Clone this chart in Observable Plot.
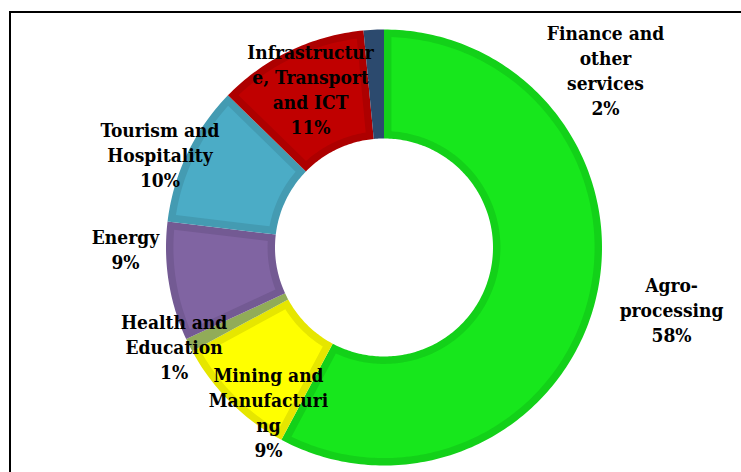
<!DOCTYPE html>
<html><head><meta charset="utf-8">
<script src="https://cdn.jsdelivr.net/npm/d3@7"></script>
<script src="https://cdn.jsdelivr.net/npm/@observablehq/plot@0.6"></script>
<style>
body{margin:0;background:#fff}
#wrap{position:relative;width:741px;height:472px;overflow:hidden;background:#fff}
#chart{position:absolute;left:0;top:0}
#frame{position:absolute;left:9px;top:11px;width:800px;height:600px;border:2px solid #000;box-sizing:border-box;pointer-events:none}
</style>
</head><body>
<div id="wrap"><div id="chart"></div><div id="frame"></div></div>
<script>
// ---- data ----
const sectors = ["Agro-processing","Mining and Manufacturing","Health and Education","Energy","Tourism and Hospitality","Infrastructure, Transport and ICT","Finance and other services"];
const shares = [57.8, 9.3, 1.0, 8.8, 10.4, 11.2, 1.5];
const pctLabels = ["58%","9%","1%","9%","10%","11%","2%"];
const nameLabels = ["Agro-\nprocessing","Mining and\nManufacturi\nng","Health and\nEducation","Energy","Tourism and\nHospitality","Infrastructur\ne, Transport\nand ICT","Finance and\nother\nservices"];

// ---- styles / layout ----
const fillColors = ["#17e71c","#ffff00","#91ac58","#8064a2","#4bacc6","#c00000","#2c4a6e"];
const rimColors  = ["#13d119","#e6e600","#91ac58","#735a93","#449bb2","#ad0000","#2c4a6e"];
const labelPos = [[1.319,-0.284],[-0.530,-0.752],[-0.963,-0.451],[-1.186,-0.006],[-1.028,0.429],[-0.337,0.730],[1.016,0.815]];
const R = 1, r = 0.5, inset = 0.034;

const pie = d3.pie().sort(null).value(d => d)(shares);

function ringPoints(id, a0, a1, ro, ri, off, color) {
  const pts = [];
  const ao0 = a0 + (off ? Math.asin(off / ro) : 0), ao1 = a1 - (off ? Math.asin(off / ro) : 0);
  const ai0 = a0 + (off ? Math.asin(off / ri) : 0), ai1 = a1 - (off ? Math.asin(off / ri) : 0);
  const n = Math.max(4, Math.ceil((a1 - a0) * 180 / Math.PI));
  for (let i = 0; i <= n; i++) { const a = ao0 + (ao1 - ao0) * i / n; pts.push({id, x: ro * Math.sin(a), y: ro * Math.cos(a), color}); }
  for (let i = 0; i <= n; i++) { const a = ai1 + (ai0 - ai1) * i / n; pts.push({id, x: ri * Math.sin(a), y: ri * Math.cos(a), color}); }
  pts.push({...pts[0]});
  return pts;
}

const rimPts = [], innerPts = [];
pie.forEach((p, i) => {
  rimPts.push(...ringPoints(i, p.startAngle, p.endAngle, R, r, 0, rimColors[i]));
  if ((p.endAngle - p.startAngle) * (r + inset) > 2.5 * inset)
    innerPts.push(...ringPoints(i, p.startAngle, p.endAngle, R - inset, r + inset, inset, fillColors[i]));
});

const labels = sectors.map((s, i) => ({text: nameLabels[i] + "\n" + pctLabels[i], x: labelPos[i][0], y: labelPos[i][1]}));

const chart = Plot.plot({
  width: 741, height: 472, margin: 0,
  style: {background: "transparent"},
  x: {domain: [-1, 1], range: [165.5, 601.5], axis: null},
  y: {domain: [-1, 1], range: [465, 29], axis: null},
  color: {type: "identity"},
  marks: [
    Plot.line(rimPts, {x: "x", y: "y", z: "id", fill: "color", stroke: "none", curve: "linear"}),
    Plot.line(innerPts, {x: "x", y: "y", z: "id", fill: "color", stroke: "none", curve: "linear"}),
    Plot.text(labels, {x: "x", y: "y", text: "text", fontFamily: "'DejaVu Serif Condensed', 'Liberation Serif', serif", fontWeight: "bold", fontSize: 19, lineHeight: 1.316, lineAnchor: "middle", textAnchor: "middle", fill: "#000"})
  ]
});
document.getElementById("chart").appendChild(chart);
</script>
</body></html>
